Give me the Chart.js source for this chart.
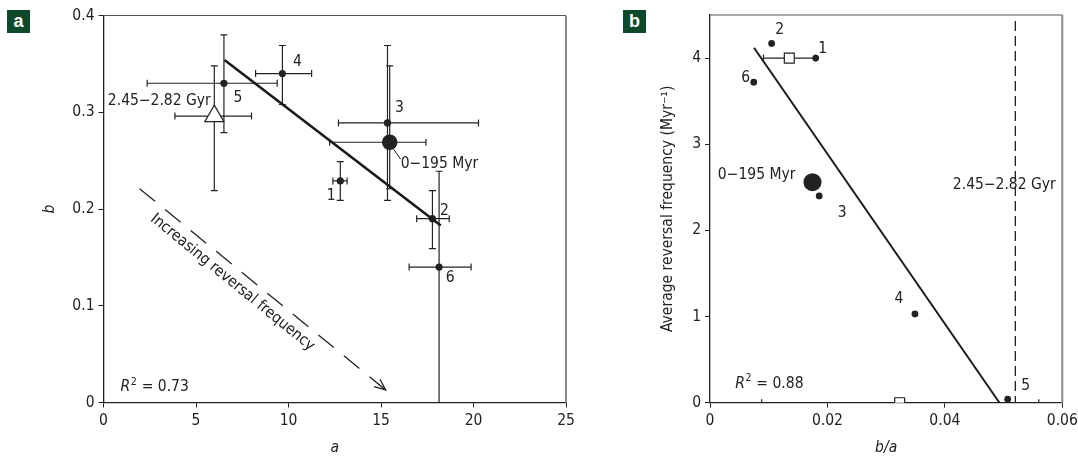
<!DOCTYPE html>
<html>
<head>
<meta charset="utf-8">
<script src="https://cdn.jsdelivr.net/npm/chart.js@4"></script>
<style>
  body { margin: 0; background: #fff; }
  #wrap { position: relative; width: 1078px; height: 458px; overflow: hidden; }
  canvas { position: absolute; top: 0; }
  #chartA { left: 0; }
  #chartB { left: 580px; }
  .tag { position: absolute; top: 10px; width: 23px; height: 23px; background: #0c4a2b; color: #fff;
         font: bold 18px 'Liberation Sans', sans-serif; text-align: center; line-height: 22px; }
</style>
</head>
<body>
<div id="wrap">
  <canvas id="chartA" width="580" height="458"></canvas>
  <canvas id="chartB" width="510" height="458"></canvas>
  <div class="tag" style="left:7px">a</div>
  <div class="tag" style="left:623px">b</div>
</div>
<script>
// panel a: fitted a and b for intervals 1-6 (with error ranges)
const intervals = ['1', '2', '3', '4', '5', '6'];
const aVals  = [12.8, 17.78, 15.35, 9.67, 6.51, 18.14];
const aLow   = [12.4, 16.93, 12.7, 8.22, 2.36, 16.52];
const aHigh  = [13.17, 18.69, 20.27, 11.25, 9.39, 19.87];
const bVals  = [0.229, 0.19, 0.289, 0.34, 0.33, 0.14];
const bLow   = [0.209, 0.159, 0.209, 0.308, 0.279, 0];
const bHigh  = [0.249, 0.219, 0.369, 0.369, 0.38, 0.239];

// 0-195 Myr mean and the 2.45-2.82 Gyr value
const meanA = [15.47], meanALow = [12.22], meanAHigh = [17.43];
const meanB = [0.269], meanBLow = [0.221], meanBHigh = [0.348];
const oldA = [5.99], oldALow = [3.86], oldAHigh = [8.0];
const oldB = [0.296], oldBLow = [0.219], oldBHigh = [0.348];

const fitAX = [6.54, 18.23];
const fitAY = [0.354, 0.183];
const arrowX = [1.95, 15.25];
const arrowY = [0.221, 0.013];

const xTicksA = [0, 5, 10, 15, 20, 25];
const xTickLabelsA = ['0', '5', '10', '15', '20', '25'];
const yTicksA = [0, 0.1, 0.2, 0.3, 0.4];
const yTickLabelsA = ['0', '0.1', '0.2', '0.3', '0.4'];

// panel b: average reversal frequency against b/a
const ratioVals = [0.018, 0.0105, 0.0186, 0.0349, 0.0507, 0.00745];
const freqVals  = [4.0, 4.17, 2.40, 1.03, 0.04, 3.72];
const meanRatio = [0.01745], meanFreq = [2.56];
const boxRatio = [0.0135, 0.0323];
const boxRatioLow = [0.0091, 0.0088];
const boxRatioHigh = [0.018, 0.056];
const boxFreq = [4.0, 0];
const fitBX = [0.0075, 0.0493];
const fitBY = [4.12, 0];
const oldRatioX = [0.052, 0.052];
const oldRatioY = [4.43, 0];

const xTicksB = [0, 0.02, 0.04, 0.06];
const xTickLabelsB = ['0', '0.02', '0.04', '0.06'];
const yTicksB = [0, 1, 2, 3, 4];
const yTickLabelsB = ['0', '1', '2', '3', '4'];

const INK = '#222';
const FONT = "'Liberation Sans Narrow', 'DejaVu Sans Condensed', 'Liberation Sans', sans-serif";
const FS = 15.5;
Chart.defaults.font.family = FONT;
Chart.defaults.font.size = FS;
Chart.defaults.color = INK;

function pts(xs, ys) {
    return xs.map((v, i) => ({x: v, y: ys[i]}));
}

// top and right edges of the box
const frame = {
    id: 'frame',
    afterDraw(chart) {
        const {ctx, chartArea: a} = chart;
        ctx.save();
        ctx.strokeStyle = '#555';
        ctx.lineWidth = 1.2;
        ctx.beginPath(); ctx.moveTo(a.left, a.top); ctx.lineTo(a.right, a.top); ctx.stroke();
        ctx.strokeStyle = '#8a8a8a';
        ctx.lineWidth = 2;
        ctx.beginPath(); ctx.moveTo(a.right, a.top); ctx.lineTo(a.right, a.bottom); ctx.stroke();
        ctx.restore();
    }
};

// error bars from the err arrays attached to a dataset
const errorBars = {
    id: 'errorBars',
    beforeDatasetsDraw(chart) {
        const {ctx, chartArea: area, scales: {x, y}} = chart;
        const cap = 3.5;
        ctx.save();
        ctx.beginPath();
        ctx.rect(area.left, area.top, area.right - area.left, area.bottom - area.top);
        ctx.clip();
        ctx.strokeStyle = INK;
        ctx.lineWidth = 1.2;
        chart.data.datasets.forEach(ds => {
            const e = ds.err;
            if (!e) return;
            ds.data.forEach((p, i) => {
                const px = x.getPixelForValue(p.x), py = y.getPixelForValue(p.y);
                ctx.beginPath();
                if (e.xLow) {
                    const l = x.getPixelForValue(e.xLow[i]), r = x.getPixelForValue(e.xHigh[i]);
                    ctx.moveTo(l, py); ctx.lineTo(r, py);
                    ctx.moveTo(l, py - cap); ctx.lineTo(l, py + cap);
                    ctx.moveTo(r, py - cap); ctx.lineTo(r, py + cap);
                }
                if (e.yLow) {
                    const b = y.getPixelForValue(e.yLow[i]), t = y.getPixelForValue(e.yHigh[i]);
                    ctx.moveTo(px, b); ctx.lineTo(px, t);
                    ctx.moveTo(px - cap, b); ctx.lineTo(px + cap, b);
                    ctx.moveTo(px - cap, t); ctx.lineTo(px + cap, t);
                }
                ctx.stroke();
            });
        });
        ctx.restore();
    }
};

function drawR2(ctx, x, y, val) {
    ctx.textAlign = 'left';
    ctx.textBaseline = 'middle';
    ctx.font = `italic ${FS}px ${FONT}`;
    ctx.fillText('R', x, y);
    let w = ctx.measureText('R').width;
    ctx.font = `10.5px ${FONT}`;
    ctx.fillText('2', x + w + 0.5, y - 5);
    w += ctx.measureText('2').width + 1;
    ctx.font = `${FS}px ${FONT}`;
    ctx.fillText(' = ' + val, x + w, y);
}

// text notes anchored at data points, shifted a few pixels
function makeNotes(items, extra) {
    return {
        id: 'notes',
        afterDatasetsDraw(chart) {
            const {ctx, scales: {x, y}} = chart;
            ctx.save();
            ctx.fillStyle = INK;
            ctx.strokeStyle = INK;
            items.forEach(n => {
                const px = x.getPixelForValue(n.x) + (n.dx || 0);
                const py = y.getPixelForValue(n.y) + (n.dy || 0);
                if (n.r2) { drawR2(ctx, px, py, n.r2); return; }
                ctx.font = `${FS}px ${FONT}`;
                ctx.textAlign = n.align || 'center';
                ctx.textBaseline = 'middle';
                ctx.fillText(n.text, px, py);
            });
            if (extra) extra(chart, ctx);
            ctx.restore();
        }
    };
}

function scale(min, max, ticks, labels, title, titlePad, fitSize, isX) {
    return {
        type: 'linear',
        min, max,
        afterBuildTicks: s => { s.ticks = ticks.map(v => ({value: v})); },
        afterFit: s => { if (isX) s.height = fitSize; else s.width = fitSize; },
        ticks: { padding: 4, color: INK, callback: (v, i) => labels[i] },
        grid: { drawOnChartArea: false, drawTicks: true, tickLength: 5, color: INK, lineWidth: 1 },
        border: { display: true, color: INK, width: 1.3 },
        title: { display: true, text: title.text, font: { size: FS, style: title.italic ? 'italic' : 'normal' },
                 color: INK, padding: titlePad }
    };
}

const notesA = intervals.map((t, i) => {
    const off = [[-9, 15], [12, -8], [12, -15], [15, -12], [14, 15], [11, 11]][i];
    return {text: t, x: aVals[i], y: bVals[i], dx: off[0], dy: off[1]};
}).concat([
    {text: '2.45\u22122.82 Gyr', x: oldA[0], y: oldB[0], dx: -3.5, dy: -15.5, align: 'right'},
    {text: '0\u2212195 Myr', x: meanA[0], y: meanB[0], dx: 11, dy: 21.5, align: 'left'},
    {r2: '0.73', x: 0.92, y: 0.016}
]);

new Chart(document.getElementById('chartA'), {
    type: 'scatter',
    data: {
        datasets: [
            { data: pts(fitAX, fitAY), showLine: true, borderColor: '#1a1a1a', borderWidth: 2.6, pointRadius: 0 },
            { data: pts(arrowX, arrowY), showLine: true, borderColor: INK, borderWidth: 1.3,
              borderDash: [20, 13], pointRadius: 0 },
            { data: pts(aVals, bVals), pointRadius: 3.6, backgroundColor: INK, borderWidth: 0,
              err: { xLow: aLow, xHigh: aHigh, yLow: bLow, yHigh: bHigh } },
            { data: pts(meanA, meanB), pointRadius: 7.8, backgroundColor: INK, borderWidth: 0,
              err: { xLow: meanALow, xHigh: meanAHigh, yLow: meanBLow, yHigh: meanBHigh } },
            { data: pts(oldA, oldB), pointStyle: 'triangle', pointRadius: 11, backgroundColor: '#fff',
              borderColor: INK, borderWidth: 1.2,
              err: { xLow: oldALow, xHigh: oldAHigh, yLow: oldBLow, yHigh: oldBHigh } }
        ]
    },
    options: {
        responsive: false,
        animation: false,
        layout: { padding: { top: 15.5, right: 14, bottom: 0, left: 0 } },
        plugins: { legend: { display: false }, tooltip: { enabled: false } },
        scales: {
            x: scale(0, 25, xTicksA, xTickLabelsA, {text: 'a', italic: true}, {top: 0, bottom: 1}, 55.5, true),
            y: scale(0, 0.4, yTicksA, yTickLabelsA, {text: 'b', italic: true}, {top: 41, bottom: 0}, 103.5, false)
        }
    },
    plugins: [frame, errorBars, makeNotes(notesA, (chart, ctx) => {
        const {x, y} = chart.scales;
        // arrow head and rotated caption
        const x0 = x.getPixelForValue(arrowX[0]), y0 = y.getPixelForValue(arrowY[0]);
        const x1 = x.getPixelForValue(arrowX[1]), y1 = y.getPixelForValue(arrowY[1]);
        const ang = Math.atan2(y1 - y0, x1 - x0);
        ctx.lineWidth = 1.3;
        ctx.beginPath();
        ctx.moveTo(x1 - 12 * Math.cos(ang - 0.4), y1 - 12 * Math.sin(ang - 0.4));
        ctx.lineTo(x1, y1);
        ctx.lineTo(x1 - 12 * Math.cos(ang + 0.4), y1 - 12 * Math.sin(ang + 0.4));
        ctx.stroke();
        ctx.save();
        ctx.translate(x.getPixelForValue(6.97), y.getPixelForValue(0.124));
        ctx.rotate(ang);
        ctx.font = `${FS}px ${FONT}`;
        ctx.textAlign = 'center';
        ctx.textBaseline = 'middle';
        ctx.fillText('Increasing reversal frequency', 0, 0);
        ctx.restore();
        // leader from the 0-195 Myr point to its label
        const mx = x.getPixelForValue(meanA[0]), my = y.getPixelForValue(meanB[0]);
        ctx.lineWidth = 1;
        ctx.beginPath();
        ctx.moveTo(mx + 4, my + 7);
        ctx.lineTo(mx + 11, my + 17);
        ctx.stroke();
    })]
});

const notesB = intervals.map((t, i) => {
    const off = [[7, -9], [8, -13], [23, 17], [-16, -15], [18, -13], [-8, -4]][i];
    return {text: t, x: ratioVals[i], y: freqVals[i], dx: off[0], dy: off[1]};
}).concat([
    {text: '0\u2212195 Myr', x: meanRatio[0], y: meanFreq[0], dx: -17, dy: -7, align: 'right'},
    {text: '2.45\u22122.82 Gyr', x: oldRatioX[0], y: 2.53, dx: -11},
    {r2: '0.88', x: 0.0043, y: 0.22}
]);

new Chart(document.getElementById('chartB'), {
    type: 'scatter',
    data: {
        datasets: [
            { data: pts(fitBX, fitBY), showLine: true, borderColor: '#1a1a1a', borderWidth: 2, pointRadius: 0 },
            { data: pts(oldRatioX, oldRatioY), showLine: true, borderColor: INK, borderWidth: 1.3,
              borderDash: [10, 5], pointRadius: 0 },
            { data: pts(boxRatio, boxFreq), pointStyle: 'rect', pointRadius: 7, backgroundColor: '#fff',
              borderColor: INK, borderWidth: 1.2,
              err: { xLow: boxRatioLow, xHigh: boxRatioHigh } },
            { data: pts(ratioVals, freqVals), pointRadius: 3.4, backgroundColor: INK, borderWidth: 0 },
            { data: pts(meanRatio, meanFreq), pointRadius: 9, backgroundColor: INK, borderWidth: 0 }
        ]
    },
    options: {
        responsive: false,
        animation: false,
        layout: { padding: { top: 15, right: 27.7, bottom: 0, left: 0 } },
        plugins: { legend: { display: false }, tooltip: { enabled: false } },
        scales: {
            x: scale(0, 0.06, xTicksB, xTickLabelsB, {text: 'b/a', italic: true}, {top: 0, bottom: 1}, 55.3, true),
            y: scale(0, 4.5, yTicksB, yTickLabelsB, {text: 'Average reversal frequency (Myr\u207B\u00B9)', italic: false},
                     {top: 79, bottom: 0}, 130, false)
        }
    },
    plugins: [frame, errorBars, makeNotes(notesB)]
});
</script>
</body>
</html>
